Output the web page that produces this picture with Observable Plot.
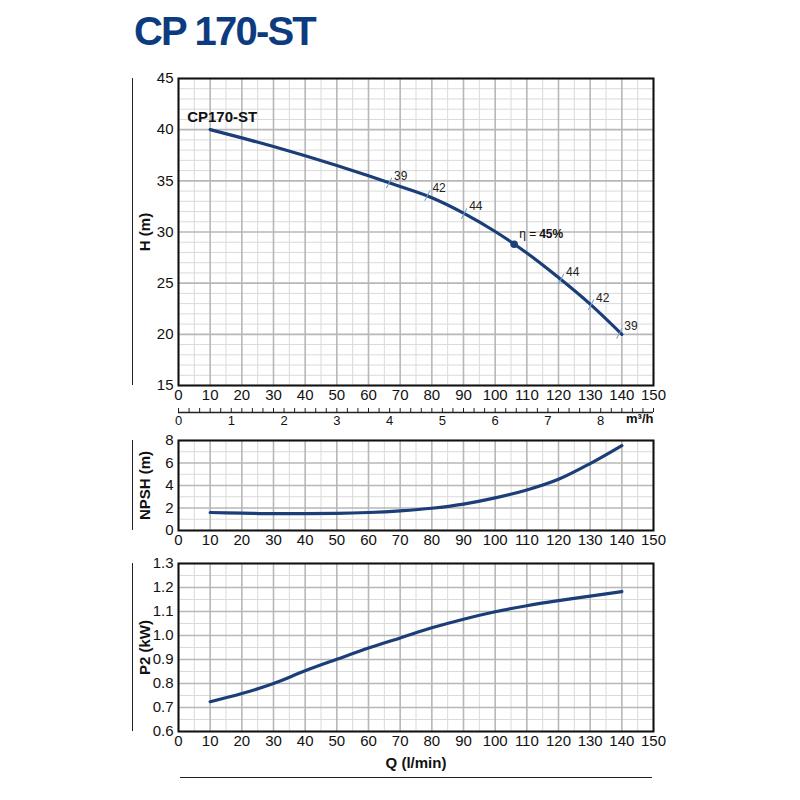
<!DOCTYPE html>
<html><head><meta charset="utf-8">
<script src="https://cdn.jsdelivr.net/npm/d3@7"></script>
<script src="https://cdn.jsdelivr.net/npm/@observablehq/plot@0.6"></script>
<style>
body{margin:0;background:#fff;}
#wrap{position:relative;width:800px;height:800px;overflow:hidden;}
#wrap .abs{position:absolute;left:0;}
#title{position:absolute;left:134px;top:9px;line-height:1;font:bold 40px "Liberation Sans",Arial,sans-serif;color:#0d3b80;letter-spacing:-1.8px;margin:0;}
.vline{position:absolute;left:132px;width:0;border-left:1.5px solid #222;}
.hline{position:absolute;height:0;border-top:1.5px solid #222;}
</style></head>
<body>
<div id="wrap">
  <div id="title">CP 170-ST</div>
  <div class="vline" style="top:78px;height:307px"></div>
  <div class="vline" style="top:440px;height:90px"></div>
  <div class="vline" style="top:563px;height:168px"></div>
  <div class="hline" style="left:180px;width:472px;top:777px"></div>
</div>
<script>
// ---------- data ----------
const qValues   = [10, 20, 30, 40, 50, 60, 70, 80, 90, 100, 110, 120, 130, 140];
const headH     = [40.0, 39.2, 38.35, 37.45, 36.5, 35.5, 34.45, 33.35, 31.85, 30.05, 27.95, 25.55, 22.95, 20.0];
const npshM     = [1.6, 1.55, 1.5, 1.5, 1.52, 1.6, 1.75, 1.98, 2.35, 2.9, 3.6, 4.55, 5.95, 7.55];
const powerKW   = [0.724, 0.758, 0.80, 0.853, 0.901, 0.948, 0.99, 1.032, 1.068, 1.099, 1.124, 1.145, 1.164, 1.183];

const effQ      = [66.5, 78.6, 90.2, 120.8, 130.3, 139.2];
const effH      = [34.8, 33.56, 31.8, 25.4, 22.9, 20.1];
const effLabel  = ["39", "42", "44", "44", "42", "39"];
const bestQ = 106, bestH = 28.8, bestLabel = "45%", etaLabel = "η =";
const pumpName = "CP170-ST";

const qTicks     = [0, 10, 20, 30, 40, 50, 60, 70, 80, 90, 100, 110, 120, 130, 140, 150];
const qMinor     = [5, 15, 25, 35, 45, 55, 65, 75, 85, 95, 105, 115, 125, 135, 145];
const hTicks     = [15, 20, 25, 30, 35, 40, 45];
const hMinor     = [16,17,18,19,21,22,23,24,26,27,28,29,31,32,33,34,36,37,38,39,41,42,43,44];
const m3Ticks    = [0, 1, 2, 3, 4, 5, 6, 7, 8];
const m3Unit     = "m³/h";
const npshTicks  = [0, 2, 4, 6, 8];
const npshMinor  = [1, 3, 5, 7];
const p2Ticks    = [0.6, 0.7, 0.8, 0.9, 1.0, 1.1, 1.2, 1.3];
const p2Minor    = [0.65, 0.75, 0.85, 0.95, 1.05, 1.15, 1.25];

// ---------- styles ----------
const navy = "#1b3d78";
const font = '"Liberation Sans",Arial,sans-serif';
const base = {width: 800, marginLeft: 178, marginRight: 147,
  style: {fontFamily: font, fontSize: "15px", color: "#111", background: "transparent", overflow: "visible"}};

const hData = qValues.map((q, i) => ({q, v: headH[i]}));
const nData = qValues.map((q, i) => ({q, v: npshM[i]}));
const pData = qValues.map((q, i) => ({q, v: powerKW[i]}));
const effData = effQ.map((q, i) => ({q, h: effH[i], label: effLabel[i]}));

function grid(yMajor, yMinor) {
  return [
    Plot.ruleX(qMinor, {stroke: "#dadada", strokeWidth: 1}),
    Plot.ruleY(yMinor, {stroke: "#dadada", strokeWidth: 1}),
    Plot.ruleX(qTicks, {stroke: "#b7b7b7", strokeWidth: 1.6}),
    Plot.ruleY(yMajor, {stroke: "#b7b7b7", strokeWidth: 1.6}),
    Plot.frame({stroke: "#111", strokeWidth: 2})
  ];
}
function yLabel(t) {
  return Plot.text([t], {frameAnchor: "left", textAnchor: "middle", text: d => d, rotate: -90, dx: -33,
    fontWeight: "bold", fontSize: 15, fill: "#111"});
}
function place(svg, top) {
  svg.classList.add("abs");
  svg.style.top = top + "px";
  document.getElementById("wrap").appendChild(svg);
}

const tickShape = {draw(ctx, l) { ctx.moveTo(0, 0); ctx.lineTo(0, -l); }};

// ---------- H chart ----------
const p1 = Plot.plot({...base, height: 350, marginTop: 18, marginBottom: 25,
  x: {domain: [0, 150], label: null}, y: {domain: [15, 45], label: null},
  marks: [
    ...grid(hTicks, hMinor),
    Plot.axisX(qTicks, {tickSize: 0, tickPadding: 4, label: null}),
    Plot.axisY(hTicks, {tickSize: 0, tickPadding: 5, label: null}),
    yLabel("H (m)"),
    Plot.line(hData, {x: "q", y: "v", stroke: navy, strokeWidth: 3.2, curve: "monotone-x"}),
    Plot.vector(effData, {x: "q", y: "h", length: 11, rotate: 28, anchor: "middle",
      shape: tickShape, stroke: "#6f9fd6", strokeWidth: 1}),
    Plot.text(effData, {x: "q", y: "h", text: "label", dx: 5, dy: -7, textAnchor: "start", fontSize: 12, fill: "#222"}),
    Plot.dot([{q: bestQ, h: bestH}], {x: "q", y: "h", r: 3.8, fill: navy}),
    Plot.text([{q: bestQ, h: bestH}], {x: "q", y: "h", text: () => etaLabel, dx: 5, dy: -10, textAnchor: "start", fontSize: 12, fill: "#111"}),
    Plot.text([{q: bestQ, h: bestH}], {x: "q", y: "h", text: () => bestLabel, dx: 25, dy: -10, textAnchor: "start", fontSize: 12, fontWeight: "bold", fill: "#111"}),
    Plot.text([hData[0]], {x: "q", y: "v", text: () => pumpName, dx: -23, dy: -12, textAnchor: "start", fontSize: 15, fontWeight: "bold", fill: "#111"})
  ]
});
place(p1, 60);

// ---------- m3/h ruler ----------
const m3Minor = d3.range(0, 9.001, 0.2);
const p1b = Plot.plot({...base, height: 32, marginTop: 4, marginBottom: 24,
  x: {domain: [0, 9], label: null}, y: {domain: [0, 1], label: null, axis: null},
  marks: [
    Plot.ruleX(m3Minor, {stroke: "#222", strokeWidth: 1}),
    Plot.ruleY([0], {stroke: "#222", strokeWidth: 1.3}),
    Plot.axisX(m3Ticks, {tickSize: 0, tickPadding: 3, fontSize: 13, label: null}),
    Plot.text([m3Unit], {x: [9], frameAnchor: "bottom", text: d => d, dy: 10, textAnchor: "end", fontSize: 13, fontWeight: "bold", fill: "#111"})
  ]
});
place(p1b, 404);

// ---------- NPSH chart ----------
const p2 = Plot.plot({...base, height: 129, marginTop: 15, marginBottom: 24,
  x: {domain: [0, 150], label: null}, y: {domain: [0, 8], label: null},
  marks: [
    ...grid(npshTicks, npshMinor),
    Plot.axisX(qTicks, {tickSize: 0, tickPadding: 4, label: null}),
    Plot.axisY(npshTicks, {tickSize: 0, tickPadding: 5, label: null}),
    yLabel("NPSH (m)"),
    Plot.line(nData, {x: "q", y: "v", stroke: navy, strokeWidth: 3.2, curve: "monotone-x"})
  ]
});
place(p2, 425);

// ---------- P2 chart ----------
const p3 = Plot.plot({...base, height: 235, marginTop: 15, marginBottom: 52,
  x: {domain: [0, 150], label: null}, y: {domain: [0.6, 1.3], label: null},
  marks: [
    ...grid(p2Ticks, p2Minor),
    Plot.axisX(qTicks, {tickSize: 0, tickPadding: 4, label: null}),
    Plot.axisY(p2Ticks, {tickSize: 0, tickPadding: 5, tickFormat: d3.format(".1f"), label: null}),
    yLabel("P2 (kW)"),
    Plot.text(["Q (l/min)"], {frameAnchor: "bottom", text: d => d, dy: 36, fontSize: 15, fontWeight: "bold", fill: "#111"}),
    Plot.line(pData, {x: "q", y: "v", stroke: navy, strokeWidth: 3.2, curve: "monotone-x"})
  ]
});
place(p3, 548);
</script>
</body></html>
